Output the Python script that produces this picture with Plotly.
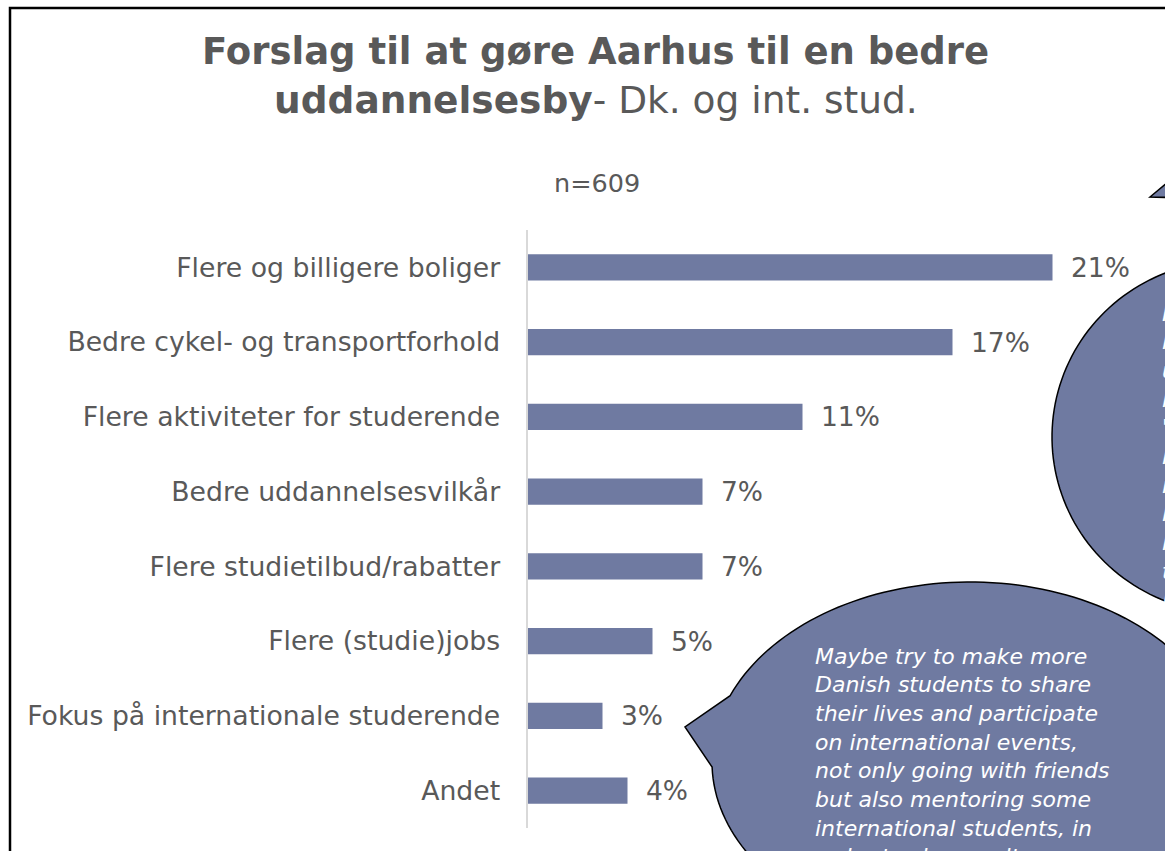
import numpy as np
import plotly.graph_objects as go

W, H = 1165, 851

categories = [
    "Flere og billigere boliger",
    "Bedre cykel- og transportforhold",
    "Flere aktiviteter for studerende",
    "Bedre uddannelsesvilkår",
    "Flere studietilbud/rabatter",
    "Flere (studie)jobs",
    "Fokus på internationale studerende",
    "Andet",
]
shares = [21, 17, 11, 7, 7, 5, 3, 4]

quote_lines = [
    "Maybe try to make more",
    "Danish students to share",
    "their lives and participate",
    "on international events,",
    "not only going with friends",
    "but also mentoring some",
    "international students, in",
    "order to share culture",
]
# first letters of the second speech bubble's lines (the rest runs off the page)
edge_letters = ["I", "l", "u", "l", "'", "h", "i", "l", "l", "t", "l"]

BAR = "#6F7AA1"
TXT = "#595959"
FONT = "DejaVu Sans, Verdana, sans-serif"


def px(x):
    return x / W


def py(y):
    return 1 - y / H


def ellipse_path(cx, cy, a, b, t0=0.0, t1=2 * np.pi, tail=None, n=180):
    t = np.linspace(t0, t1, n)
    xs = cx + a * np.cos(t)
    ys = cy + b * np.sin(t)
    pts = [(px(x), py(y)) for x, y in zip(xs, ys)]
    if tail is not None:
        pts.append((px(tail[0]), py(tail[1])))
    d = "M " + " L ".join(f"{x:.5f},{y:.5f}" for x, y in pts) + " Z"
    return d


fig = go.Figure()
fig.add_trace(
    go.Bar(
        x=shares,
        y=categories,
        orientation="h",
        marker=dict(color=BAR, line=dict(width=0)),
        width=0.35,
        hoverinfo="skip",
    )
)

x0_px, axis_top, axis_bot = 527.5, 230, 828
scale = 25.0  # pixels per percent

fig.update_layout(
    width=W,
    height=H,
    margin=dict(l=0, r=0, t=0, b=0),
    paper_bgcolor="white",
    plot_bgcolor="white",
    showlegend=False,
    font=dict(family=FONT, color=TXT, size=26),
    xaxis=dict(
        domain=[px(x0_px), 1],
        range=[0, (W - x0_px) / scale],
        showgrid=False,
        zeroline=False,
        showticklabels=False,
        showline=False,
        fixedrange=True,
    ),
    yaxis=dict(
        domain=[py(axis_bot), py(axis_top)],
        range=[len(categories) - 0.5, -0.5],
        showgrid=False,
        zeroline=False,
        showline=True,
        linecolor="#D9D9D9",
        linewidth=2,
        ticks="",
        ticklabelstandoff=20,
        tickfont=dict(size=26.7, color=TXT, family=FONT),
        fixedrange=True,
    ),
)

annotations = []
for c, v in zip(categories, shares):
    annotations.append(
        dict(
            x=v, y=c, xref="x", yref="y", text=f"{v}%", showarrow=False,
            xanchor="left", yanchor="middle", xshift=16,
            font=dict(size=26.5, color=TXT, family=FONT),
        )
    )

# title
annotations.append(
    dict(
        x=px(596), y=py(52), xref="paper", yref="paper",
        text="<b>Forslag til at gøre Aarhus til en bedre</b>",
        showarrow=False, xanchor="center", yanchor="middle",
        font=dict(size=37, color=TXT, family=FONT),
    )
)
annotations.append(
    dict(
        x=px(596), y=py(100), xref="paper", yref="paper",
        text="<b>uddannelsesby</b>- Dk. og int. stud.",
        showarrow=False, xanchor="center", yanchor="middle",
        font=dict(size=37.5, color=TXT, family=FONT),
    )
)
annotations.append(
    dict(
        x=px(597), y=py(183), xref="paper", yref="paper", text="n=609",
        showarrow=False, xanchor="center", yanchor="middle",
        font=dict(size=25.5, color=TXT, family=FONT),
    )
)

shapes = []
# outer frame
shapes.append(
    dict(
        type="rect", xref="paper", yref="paper",
        x0=px(10), x1=px(1200), y0=py(900), y1=py(8),
        line=dict(color="black", width=2.5), fillcolor="rgba(0,0,0,0)",
        layer="above",
    )
)

# upper-right speech bubble
shapes.append(
    dict(
        type="path", xref="paper", yref="paper",
        path=ellipse_path(1230, 437, 178, 176),
        fillcolor=BAR, line=dict(color="black", width=1.5), layer="above",
    )
)
# its pointer
shapes.append(
    dict(
        type="path", xref="paper", yref="paper",
        path=f"M {px(1150)},{py(197)} L {px(1230)},{py(130)} L {px(1230)},{py(199)} Z",
        fillcolor=BAR, line=dict(color="black", width=1.5), layer="above",
    )
)

# lower speech bubble with pointer towards the bars
cx2, cy2, a2, b2 = 970, 762, 258, 180
t_up = np.arctan2((697 - cy2) / b2, (735 - cx2) / a2)
t_lo = np.arctan2((767 - cy2) / b2, (717 - cx2) / a2)
shapes.append(
    dict(
        type="path", xref="paper", yref="paper",
        path=ellipse_path(cx2, cy2, a2, b2, t_up, t_lo, tail=(685, 727)),
        fillcolor=BAR, line=dict(color="black", width=1.5), layer="above",
    )
)

for i, line in enumerate(quote_lines):
    annotations.append(
        dict(
            x=px(813), y=py(656 + i * 28.7), xref="paper", yref="paper",
            text=f"<i>{line}</i>", showarrow=False,
            xanchor="left", yanchor="middle",
            font=dict(size=22, color="white", family=FONT),
        )
    )

for i, ch in enumerate(edge_letters):
    annotations.append(
        dict(
            x=px(1160), y=py(313 + i * 28.7), xref="paper", yref="paper",
            text=f"<i>{ch}</i>", showarrow=False,
            xanchor="left", yanchor="middle",
            font=dict(size=22, color="white", family=FONT),
        )
    )

fig.update_layout(annotations=annotations, shapes=shapes)

fig.write_html("out.html")
